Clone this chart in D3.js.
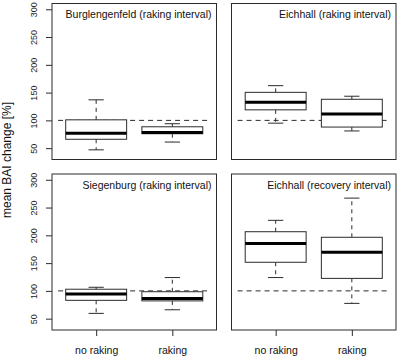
<!DOCTYPE html>
<html>
<head>
<meta charset="utf-8">
<script src="https://cdn.jsdelivr.net/npm/d3@7"></script>
<style>
  body { margin: 0; background: #fff; }
  svg { display: block; font-family: "Liberation Sans", Arial, Helvetica, sans-serif; }
</style>
</head>
<body>
<div class="bai-chart"></div>
<script>
'use strict';

var panelTitles = ['Burglengenfeld (raking interval)', 'Eichhall (raking interval)',
                   'Siegenburg (raking interval)', 'Eichhall (recovery interval)'];
var groups = ['no raking', 'raking'];
var yTicks = [50, 100, 150, 200, 250, 300];
var refLine = 100;

// [lower whisker, lower hinge, median, upper hinge, upper whisker]
var burglengenfeld = [[47, 66, 77, 101, 137], [61, 76, 78, 88.5, 94]];
var eichhallRaking = [[95, 119, 132.5, 150.5, 162.5], [81, 88, 111.5, 138, 143.5]];
var siegenburg = [[59.5, 83, 94.5, 103, 106.5], [66, 82, 86.5, 98.5, 124]];
var eichhallRecovery = [[124, 151.5, 185.5, 206.5, 227], [77.5, 122.5, 169.5, 196.5, 267]];

var panelStats = [burglengenfeld, eichhallRaking, siegenburg, eichhallRecovery];

var width = 397,
    height = 357,
    panelW = 164.5,
    panelH = 156,
    cols = [52, 231.5],
    rows = [3.5, 174],
    ink = '#2b2b2b';

var svg = d3.select('.bai-chart').append('svg')
  .attr('width', width)
  .attr('height', height);

var x = d3.scaleLinear().domain([0.42, 2.58]).range([0, panelW]),
    y = d3.scaleLinear().domain([29.6, 310.4]).range([panelH, 0]);

function drawPanel(i) {
  var col = i % 2,
      row = Math.floor(i / 2),
      stats = panelStats[i],
      g = svg.append('g').attr('transform', 'translate(' + cols[col] + ',' + rows[row] + ')');

  // reference line first, boxes are painted over it
  g.append('line')
    .attr('x1', x(0.5)).attr('x2', x(2.5))
    .attr('y1', y(refLine)).attr('y2', y(refLine))
    .attr('stroke', ink).attr('stroke-dasharray', '5,4');

  var box = g.selectAll('g.box').data(stats).enter().append('g').attr('class', 'box');
  var bw = x(1.4) - x(1),
      cw = bw / 2;

  box.each(function (d, j) {
    var b = d3.select(this),
        cx = x(j + 1);
    b.append('line').attr('x1', cx).attr('x2', cx).attr('y1', y(d[3])).attr('y2', y(d[4]))
      .attr('stroke', ink).attr('stroke-dasharray', '4,4');
    b.append('line').attr('x1', cx).attr('x2', cx).attr('y1', y(d[1])).attr('y2', y(d[0]))
      .attr('stroke', ink).attr('stroke-dasharray', '4,4');
    b.append('line').attr('x1', cx - cw / 2).attr('x2', cx + cw / 2).attr('y1', y(d[4])).attr('y2', y(d[4]))
      .attr('stroke', ink);
    b.append('line').attr('x1', cx - cw / 2).attr('x2', cx + cw / 2).attr('y1', y(d[0])).attr('y2', y(d[0]))
      .attr('stroke', ink);
    b.append('rect')
      .attr('x', cx - bw).attr('width', bw * 2)
      .attr('y', y(d[3])).attr('height', y(d[1]) - y(d[3]))
      .attr('fill', '#fff').attr('stroke', ink);
    b.append('line').attr('x1', cx - bw).attr('x2', cx + bw).attr('y1', y(d[2])).attr('y2', y(d[2]))
      .attr('stroke', '#000').attr('stroke-width', 3);
  });

  g.append('rect')
    .attr('width', panelW).attr('height', panelH)
    .attr('fill', 'none').attr('stroke', ink);

  g.append('text')
    .attr('x', panelW - 5).attr('y', 14.5)
    .attr('text-anchor', 'end')
    .attr('font-size', '10.5px')
    .attr('fill', '#111')
    .text(panelTitles[i]);

  if (col === 0) {
    var yAxis = g.append('g').call(d3.axisLeft(y).tickValues(yTicks).tickSize(6));
    yAxis.select('.domain').remove();
    yAxis.selectAll('line').attr('stroke', ink);
    yAxis.selectAll('text')
      .attr('font-size', '9px')
      .attr('fill', '#222')
      .attr('x', 0).attr('y', 0).attr('dy', 0)
      .attr('text-anchor', 'middle')
      .attr('transform', 'translate(-15.5,0) rotate(-90)');
  }

  if (row === 1) {
    var xAxis = g.append('g').attr('transform', 'translate(0,' + panelH + ')')
      .call(d3.axisBottom(x).tickValues([1, 2]).tickSize(6).tickPadding(11)
        .tickFormat(function (d) { return groups[d - 1]; }));
    xAxis.select('.domain').remove();
    xAxis.selectAll('line').attr('stroke', ink);
    xAxis.selectAll('text').attr('font-size', '10.5px').attr('fill', '#111');
  }
}

for (var i = 0; i < panelTitles.length; i++) {
  drawPanel(i);
}

svg.append('text')
  .attr('transform', 'translate(10.5,160) rotate(-90)')
  .attr('text-anchor', 'middle')
  .attr('font-size', '12px')
  .attr('fill', '#111')
  .text('mean BAI change [%]');
</script>
</body>
</html>
